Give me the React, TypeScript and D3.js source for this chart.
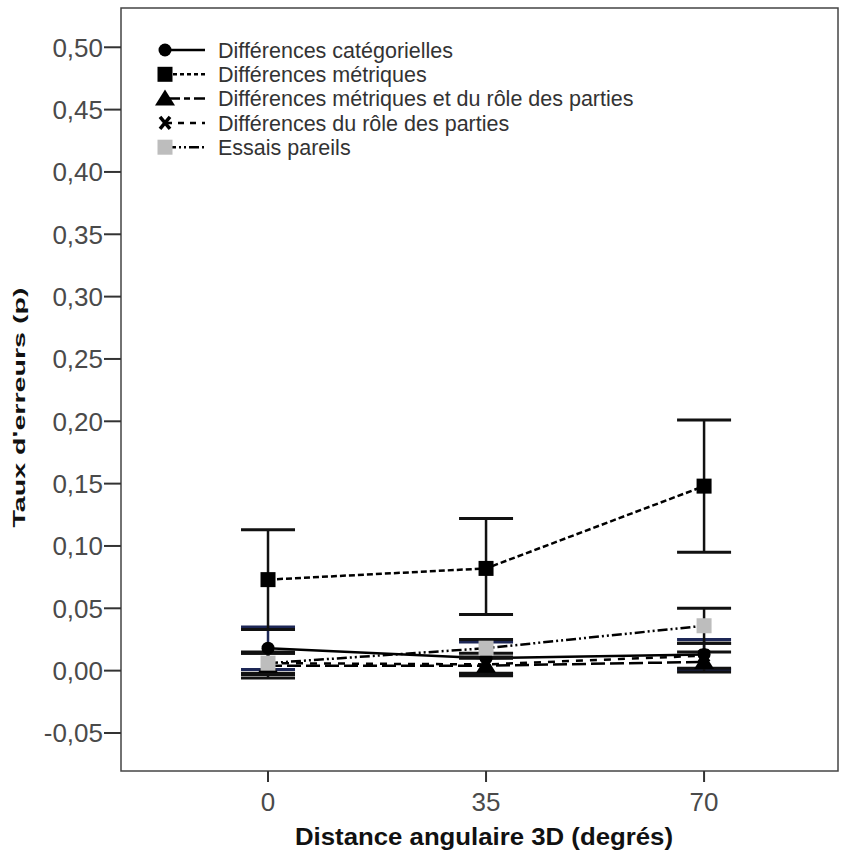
import React from "react";
import * as d3 from "d3";

const angles = [0, 35, 70];
const yTicks = [-0.05, 0, 0.05, 0.1, 0.15, 0.2, 0.25, 0.3, 0.35, 0.4, 0.45, 0.5];

const seriesNames = [
  "Différences catégorielles",
  "Différences métriques",
  "Différences métriques et du rôle des parties",
  "Différences du rôle des parties",
  "Essais pareils",
];

// mean, lower CI, upper CI per angle
const catMean = [0.018, 0.01, 0.013];
const catLow = [0.001, -0.003, 0.001];
const catHigh = [0.035, 0.023, 0.025];

const metMean = [0.073, 0.082, 0.148];
const metLow = [0.033, 0.045, 0.095];
const metHigh = [0.113, 0.122, 0.201];

const metRoleMean = [0.004, 0.004, 0.007];
const metRoleLow = [-0.006, -0.002, -0.001];
const metRoleHigh = [0.014, 0.01, 0.015];

const roleMean = [0.006, 0.005, 0.012];
const roleLow = [-0.003, -0.004, 0.002];
const roleHigh = [0.015, 0.014, 0.022];

const sameMean = [0.006, 0.018, 0.036];
const sameLow = [-0.002, 0.011, 0.022];
const sameHigh = [0.014, 0.025, 0.05];

type Series = {
  name: string;
  mean: number[];
  low: number[];
  high: number[];
  dash: string;
  legendDash: string;
  marker: string;
  barColor: string;
};

const series: Series[] = [
  { name: seriesNames[0], mean: catMean, low: catLow, high: catHigh, dash: "", legendDash: "", marker: "circle", barColor: "#1d2756" },
  { name: seriesNames[1], mean: metMean, low: metLow, high: metHigh, dash: "6,3", legendDash: "4,3", marker: "square", barColor: "#111" },
  { name: seriesNames[2], mean: metRoleMean, low: metRoleLow, high: metRoleHigh, dash: "14,5", legendDash: "14,4,6,4", marker: "triangle", barColor: "#111" },
  { name: seriesNames[3], mean: roleMean, low: roleLow, high: roleHigh, dash: "7,7", legendDash: "6,6", marker: "x", barColor: "#111" },
  { name: seriesNames[4], mean: sameMean, low: sameLow, high: sameHigh, dash: "10,3,2,3,2,3", legendDash: "10,3,2,3,2,3", marker: "gray", barColor: "#111" },
];

const left = 121, right = 838, top = 8, bottom = 771;

function Marker({ type, x, y }: { type: string; x: number; y: number }) {
  if (type === "circle") return <circle cx={x} cy={y} r={6.5} fill="#000" />;
  if (type === "square") return <rect x={x - 7.5} y={y - 7.5} width={15} height={15} fill="#000" />;
  if (type === "gray") return <rect x={x - 7.5} y={y - 7.5} width={15} height={15} fill="#bdbdbd" />;
  if (type === "triangle")
    return <path d={`M${x},${y - 9}L${x + 10},${y + 7}L${x - 10},${y + 7}Z`} fill="#000" />;
  return (
    <path
      d={`M${x - 5},${y - 6}L${x + 5},${y + 6}M${x + 5},${y - 6}L${x - 5},${y + 6}`}
      stroke="#000"
      strokeWidth={3.5}
    />
  );
}

export default function App() {
  const x = d3.scaleLinear().domain([-23.6, 91.5]).range([left, right]);
  const y = d3.scaleLinear().domain([-0.0805, 0.5315]).range([bottom, top]);
  const line = d3
    .line<number>()
    .x((_, i) => x(angles[i]))
    .y((d) => y(d));
  const capW = 27;
  const fmt = (v: number) => d3.format(".2f")(v).replace(".", ",").replace("−", "-");

  return (
    <svg width={841} height={854} style={{ position: "absolute", left: 0, top: 0, background: "#fff" }}>
      <rect x={0} y={0} width={841} height={854} fill="#fff" />
      {/* frame */}
      <rect x={left} y={top} width={right - left} height={bottom - top} fill="none" stroke="#444" strokeWidth={1.5} />
      {/* y axis */}
      {yTicks.map((t) => (
        <g key={t}>
          <line x1={left - 17} x2={left} y1={y(t)} y2={y(t)} stroke="#333" strokeWidth={2} />
          <text
            x={left - 18}
            y={y(t)}
            dy="0.36em"
            textAnchor="end"
            fontFamily="Liberation Sans, Arial, sans-serif"
            fontSize={26}
            fill="#4a4a4a"
          >
            {fmt(t)}
          </text>
        </g>
      ))}
      {/* x axis */}
      {angles.map((a) => (
        <g key={a}>
          <line x1={x(a)} x2={x(a)} y1={bottom} y2={bottom + 11} stroke="#333" strokeWidth={2} />
          <text
            x={x(a)}
            y={bottom + 40}
            textAnchor="middle"
            fontFamily="Liberation Sans, Arial, sans-serif"
            fontSize={26}
            fill="#4a4a4a"
          >
            {a}
          </text>
        </g>
      ))}
      <text
        x={484}
        y={845}
        textAnchor="middle"
        fontFamily="Liberation Sans, Arial, sans-serif"
        fontWeight="bold"
        fontSize={23}
        textLength={378}
        lengthAdjust="spacingAndGlyphs"
        fill="#111"
      >
        Distance angulaire 3D (degrés)
      </text>
      <text
        transform={`translate(25,${(285 + 530) / 2}) rotate(-90)`}
        textAnchor="middle"
        fontFamily="Liberation Sans, Arial, sans-serif"
        fontWeight="bold"
        fontSize={17}
        textLength={240}
        lengthAdjust="spacingAndGlyphs"
        fill="#111"
      >
        Taux d'erreurs (p)
      </text>
      {/* lines */}
      {series.map((s) => (
        <path
          key={"l" + s.name}
          d={line(s.mean) || ""}
          fill="none"
          stroke="#000"
          strokeWidth={2.5}
          strokeDasharray={s.dash || undefined}
        />
      ))}
      {/* error bars */}
      {series.map((s) =>
        angles.map((a, i) => (
          <g key={"e" + s.name + a} stroke={s.barColor} strokeWidth={2.5}>
            <line x1={x(a)} x2={x(a)} y1={y(s.low[i])} y2={y(s.high[i])} />
            <line x1={x(a) - capW} x2={x(a) + capW} y1={y(s.low[i])} y2={y(s.low[i])} strokeWidth={3} />
            <line x1={x(a) - capW} x2={x(a) + capW} y1={y(s.high[i])} y2={y(s.high[i])} strokeWidth={3} />
          </g>
        ))
      )}
      {/* markers */}
      {series.map((s) =>
        angles.map((a, i) => <Marker key={"m" + s.name + a} type={s.marker} x={x(a)} y={y(s.mean[i])} />)
      )}
      {/* legend */}
      {series.map((s, i) => {
        const ly = 50 + i * 24.3;
        return (
          <g key={"lg" + s.name}>
            <line
              x1={166}
              x2={205}
              y1={ly}
              y2={ly}
              stroke="#000"
              strokeWidth={2.5}
              strokeDasharray={s.legendDash || undefined}
            />
            <Marker type={s.marker} x={165} y={ly} />
            <text
              x={218}
              y={ly}
              dy="0.36em"
              fontFamily="Liberation Sans, Arial, sans-serif"
              fontSize={21.5}
              fill="#333"
            >
              {s.name}
            </text>
          </g>
        );
      })}
    </svg>
  );
}
